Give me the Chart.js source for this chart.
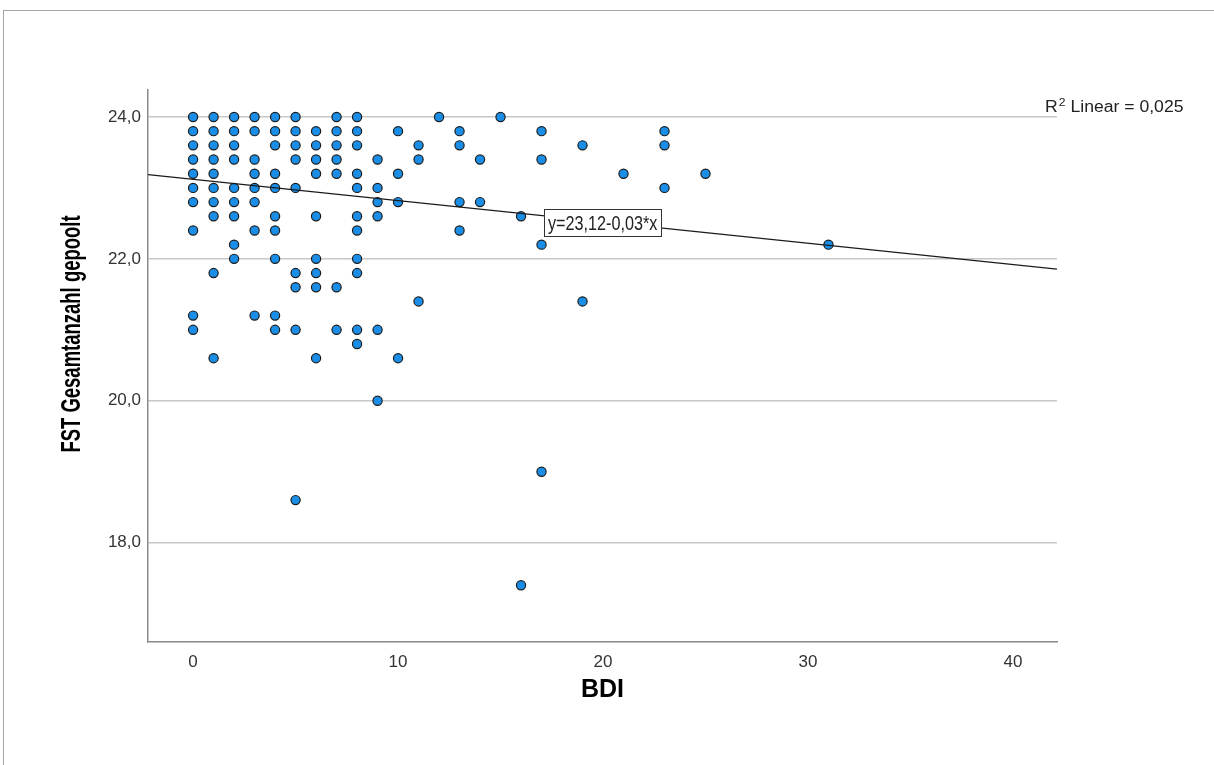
<!DOCTYPE html>
<html>
<head>
<meta charset="utf-8">
<script src="https://cdn.jsdelivr.net/npm/chart.js@4.4.1/dist/chart.umd.min.js"></script>
<style>
	html, body { margin: 0; padding: 0; background: #fff; }
	#frame {
		position: absolute; left: 3px; top: 10px; width: 1211px; height: 755px;
		border-top: 1px solid #a4a4a4; border-left: 1px solid #a4a4a4;
	}
	#wrap { position: absolute; left: 0; top: 0; width: 1214px; height: 765px; }
</style>
</head>
<body>
<div id="frame"></div>
<div id="wrap"><canvas id="chart" width="1214" height="765"></canvas></div>
<script>
// BDI score columns and the FST values seen at each of them
const bdiLevels = [0, 1, 2, 3, 4, 5, 6, 7, 8, 9, 10, 11, 12, 13, 14, 15, 16, 17, 19, 21, 23, 25, 31];
const fstByLevel = [
	[24.0, 23.8, 23.6, 23.4, 23.2, 23.0, 22.8, 22.4, 21.2, 21.0],
	[24.0, 23.8, 23.6, 23.4, 23.2, 23.0, 22.8, 22.6, 21.8, 20.6],
	[24.0, 23.8, 23.6, 23.4, 23.0, 22.8, 22.6, 22.2, 22.0],
	[24.0, 23.8, 23.4, 23.2, 23.0, 22.8, 22.4, 21.2],
	[24.0, 23.8, 23.6, 23.2, 23.0, 22.6, 22.4, 22.0, 21.2, 21.0],
	[24.0, 23.8, 23.6, 23.4, 23.0, 21.8, 21.6, 21.0, 18.6],
	[23.8, 23.6, 23.4, 23.2, 22.6, 22.0, 21.8, 21.6, 20.6],
	[24.0, 23.8, 23.6, 23.4, 23.2, 21.6, 21.0],
	[24.0, 23.8, 23.6, 23.2, 23.0, 22.6, 22.4, 22.0, 21.8, 21.0, 20.8],
	[23.4, 23.0, 22.8, 22.6, 21.0, 20.0],
	[23.8, 23.2, 22.8, 20.6],
	[23.6, 23.4, 21.4],
	[24.0],
	[23.8, 23.6, 22.8, 22.4],
	[23.4, 22.8],
	[24.0],
	[22.6, 17.4],
	[23.8, 23.4, 22.2, 19.0],
	[23.6, 21.4],
	[23.2],
	[23.8, 23.6, 23.0],
	[23.2],
	[22.2]
];
const xTicks = [0, 10, 20, 30, 40];
const yTicks = [18, 20, 22, 24];
const fitIntercept = 23.12;
const fitSlope = -0.03;
const fitLabel = 'y=23,12-0,03*x';
const r2Value = '0,025';

const X_MIN = -2.2, X_MAX = 42.15;
const Y_MIN = 16.6, Y_MAX = 24.38;

const points = [];
bdiLevels.forEach((b, i) => {
	fstByLevel[i].forEach(v => points.push({ x: b, y: v }));
});
const fitLine = [
	{ x: X_MIN, y: fitIntercept + fitSlope * X_MIN },
	{ x: X_MAX, y: fitIntercept + fitSlope * X_MAX }
];

const comma = v => v.toFixed(1).replace('.', ',');
const FONT = '"Liberation Sans", Arial, sans-serif';

// axis title, fit label box and R² note, drawn over the plot
const spssText = {
	id: 'spssText',
	afterDraw(chart) {
		const ctx = chart.ctx;
		const area = chart.chartArea;

		ctx.save();
		ctx.fillStyle = '#000';
		ctx.translate(80, 334);
		ctx.rotate(-Math.PI / 2);
		ctx.scale(0.66, 1);
		ctx.font = 'bold 28px ' + FONT;
		ctx.textAlign = 'center';
		ctx.textBaseline = 'alphabetic';
		ctx.fillText('FST Gesamtanzahl gepoolt', 0, 0);
		ctx.restore();

		ctx.save();
		ctx.fillStyle = '#000';
		ctx.font = 'bold 25px ' + FONT;
		ctx.textAlign = 'center';
		ctx.textBaseline = 'alphabetic';
		ctx.fillText('BDI', (area.left + area.right) / 2, 697);
		ctx.restore();

		// equation box
		ctx.save();
		ctx.fillStyle = '#fff';
		ctx.strokeStyle = '#333';
		ctx.lineWidth = 1;
		ctx.fillRect(544.5, 209.5, 117, 27);
		ctx.strokeRect(544.5, 209.5, 117, 27);
		ctx.fillStyle = '#222';
		ctx.translate(548, 230);
		ctx.scale(0.81, 1);
		ctx.font = '20px ' + FONT;
		ctx.textBaseline = 'alphabetic';
		ctx.fillText(fitLabel, 0, 0);
		ctx.restore();

		// R² Linear
		ctx.save();
		ctx.fillStyle = '#222';
		ctx.translate(1045, 112);
		ctx.scale(1.1, 1);
		ctx.textBaseline = 'alphabetic';
		ctx.font = '16px ' + FONT;
		ctx.fillText('R', 0, 0);
		let w = ctx.measureText('R').width;
		ctx.font = '11px ' + FONT;
		ctx.fillText('2', w + 1, -6);
		w += ctx.measureText('2').width + 1;
		ctx.font = '16px ' + FONT;
		ctx.fillText(' Linear = ' + r2Value, w, 0);
		ctx.restore();
	}
};

new Chart(document.getElementById('chart').getContext('2d'), {
	type: 'scatter',
	data: {
		datasets: [
			{
				type: 'line',
				label: 'Linear',
				data: fitLine,
				borderColor: '#1a1a1a',
				borderWidth: 1.2,
				pointRadius: 0,
				fill: false
			},
			{
				label: 'FST',
				data: points,
				backgroundColor: '#1a8ee6',
				borderColor: '#1c1c1c',
				borderWidth: 1.2,
				pointRadius: 4.6
			}
		]
	},
	options: {
		responsive: false,
		animation: false,
		layout: { padding: { left: 0, top: 90, right: 157, bottom: 0 } },
		plugins: {
			legend: { display: false },
			tooltip: { enabled: false }
		},
		scales: {
			x: {
				type: 'linear',
				min: X_MIN,
				max: X_MAX,
				afterFit: s => { s.height = 123; },
				afterBuildTicks: s => { s.ticks = xTicks.map(v => ({ value: v })); },
				grid: { display: false, drawTicks: false },
				border: { display: true, color: '#8a8a8a', width: 1.5 },
				ticks: {
					padding: 10,
					color: '#333',
					font: { family: FONT, size: 17 },
					callback: v => String(v)
				}
			},
			y: {
				type: 'linear',
				min: Y_MIN,
				max: Y_MAX,
				afterFit: s => { s.width = 148; },
				afterBuildTicks: s => { s.ticks = yTicks.map(v => ({ value: v })); },
				grid: { color: '#c8c8c8', lineWidth: 1.5, drawTicks: false },
				border: { display: true, color: '#8a8a8a', width: 1.5 },
				ticks: {
					padding: 7,
					color: '#333',
					font: { family: FONT, size: 17 },
					callback: v => comma(v)
				}
			}
		}
	},
	plugins: [spssText]
});
</script>
</body>
</html>
